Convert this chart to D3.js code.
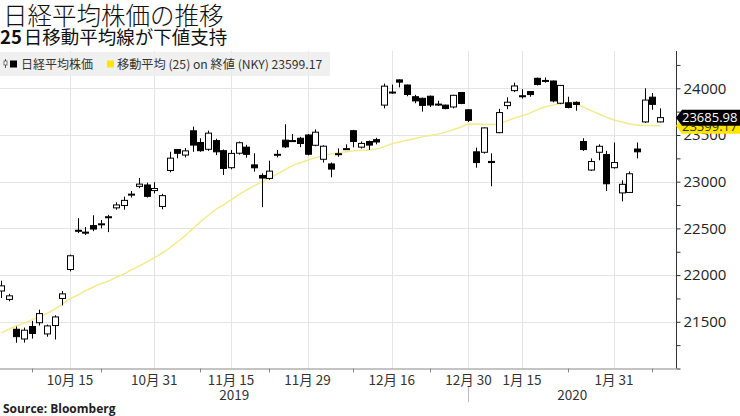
<!DOCTYPE html>
<html><head><meta charset="utf-8">
<script src="https://cdn.jsdelivr.net/npm/d3@7"></script>
<style>body{margin:0;background:#fff;} svg{display:block;}</style>
</head><body><svg id="c" width="740" height="416"></svg>
<script>
const dates = ["2019-10-01","2019-10-02","2019-10-03","2019-10-04","2019-10-07","2019-10-08","2019-10-09","2019-10-10","2019-10-11",
"2019-10-15","2019-10-16","2019-10-17","2019-10-18","2019-10-21","2019-10-23","2019-10-24","2019-10-25","2019-10-28","2019-10-29","2019-10-30","2019-10-31",
"2019-11-01","2019-11-05","2019-11-06","2019-11-07","2019-11-08","2019-11-11","2019-11-12","2019-11-13","2019-11-14","2019-11-15","2019-11-18","2019-11-19","2019-11-20","2019-11-21","2019-11-22","2019-11-25","2019-11-26","2019-11-27","2019-11-28","2019-11-29",
"2019-12-02","2019-12-03","2019-12-04","2019-12-05","2019-12-06","2019-12-09","2019-12-10","2019-12-11","2019-12-12","2019-12-13","2019-12-16","2019-12-17","2019-12-18","2019-12-19","2019-12-20","2019-12-23","2019-12-24","2019-12-25","2019-12-26","2019-12-27","2019-12-30",
"2020-01-06","2020-01-07","2020-01-08","2020-01-09","2020-01-10","2020-01-14","2020-01-15","2020-01-16","2020-01-17","2020-01-20","2020-01-21","2020-01-22","2020-01-23","2020-01-24","2020-01-27","2020-01-28","2020-01-29","2020-01-30","2020-01-31",
"2020-02-03","2020-02-04","2020-02-05","2020-02-06","2020-02-07","2020-02-10"];
const openV = [21830,21740,21420,21316,21450,21490,21370,21460,21750,
22060,22480,22460,22530,22545,22615,22720,22745,22860,22950,22965,22905,
22735,23120,23345,23285,23545,23420,23347,23440,23332,23150,23305,23370,23180,23067,23035,23290,23445,23440,23465,23500,
23390,23240,23190,23295,23350,23546,23370,23430,23450,23820,23960,24090,24035,23910,23893,23915,23828,23820,23800,23955,23770,
23320,23315,23217,23525,23815,23975,23920,23965,24107,24080,24078,23840,23845,23850,23430,23125,23315,23290,23150,
22880,22885,23350,23640,23905,23640];
const highV = [21940,21800,21450,21438,21510,21630,21470,21570,21830,
22220,22610,22515,22640,22590,22645,22780,22840,22900,23040,22990,22995,
22870,23320,23350,23360,23590,23465,23547,23460,23345,23340,23430,23395,23304,23090,23225,23340,23615,23510,23480,23510,
23560,23390,23205,23357,23400,23555,23430,23440,23470,24050,24040,24095,24040,23930,23900,23923,23866,23825,23930,23960,23775,
23365,23580,23304,23780,23904,24060,23990,23970,24115,24115,24083,24035,23910,23860,23465,23250,23400,23330,23420,
23015,23110,23420,24000,23950,23785];
const lowV = [21755,21720,21276,21277,21320,21460,21340,21310,21675,
22040,22450,22430,22470,22500,22460,22700,22700,22830,22930,22830,22875,
22705,23100,23250,23260,23320,23320,23330,23285,23072,23133,23290,23257,23107,22727,23020,23260,23360,23430,23370,23282,
23380,23205,23047,23268,23345,23368,23355,23340,23400,23785,23940,24010,23915,23840,23750,23800,23810,23775,23785,23830,23640,
23150,23300,22951,23520,23776,23960,23890,23910,24030,24060,23850,23830,23785,23760,23330,23115,23230,22900,23140,
22790,22880,23250,23630,23770,23635];
const closeV = [21885,21778,21341,21410,21375,21588,21456,21552,21799,
22207,22473,22452,22493,22549,22625,22751,22800,22867,22974,22843,22927,
22851,23252,23304,23330,23392,23332,23520,23320,23142,23303,23417,23293,23149,23039,23113,23293,23373,23438,23409,23294,
23530,23380,23135,23300,23354,23431,23410,23392,23425,24023,23952,24066,23934,23865,23817,23821,23831,23783,23925,23838,23657,
23205,23576,23205,23740,23851,24025,23917,23933,24041,24084,23865,24031,23795,23827,23344,23216,23379,22978,23205,
22972,23085,23320,23874,23828,23685.98];
const ma25 = [21380,21420,21455,21485,21520,21555,21590,21635,21690,
21745,21785,21830,21870,21905,21935,21975,22010,22055,22095,22140,22185,
22235,22290,22355,22420,22495,22570,22635,22700,22750,22805,22860,22910,22955,22995,23040,23080,23125,23170,23200,23230,
23255,23275,23295,23310,23320,23330,23335,23340,23350,23375,23405,23425,23445,23460,23480,23495,23510,23530,23555,23585,23615,
23618,23612,23612,23622,23650,23680,23705,23735,23770,23800,23820,23837,23842,23832,23800,23762,23725,23692,23660,
23640,23618,23607,23602,23600,23599.17];

const xTickDates = ["2019-10-15","2019-10-31","2019-11-15","2019-11-29","2019-12-16","2019-12-30","2020-01-15","2020-01-31"];
const xTickLabels = ["10月 15","10月 31","11月 15","11月 29","12月 16","12月 30","1月 15","1月 31"];
const xMinorDates = ["2019-10-07","2019-10-21","2019-11-11","2019-11-22","2019-12-09","2019-12-23","2020-01-23","2020-02-07"];
const yearLabels = ["2019","2020"];
const yMajorTicks = [21500,22000,22500,23000,23500,24000];
const yAllTicks = [21000,21250,21500,21750,22000,22250,22500,22750,23000,23250,23500,23750,24000,24250];

const titleText = "日経平均株価の推移";
const subNum = "25";
const subText = "日移動平均線が下値支持";
const legend1 = "日経平均株価";
const legend2 = "移動平均 (25) on 終値 (NKY) 23599.17";
const sourceText = "Source: Bloomberg";

const FONT = "'Noto Sans CJK JP','Noto Sans',sans-serif";
const NUMFONT = "'Open Sans','Noto Sans',sans-serif";
const svg = d3.select("#c");
const plotL = 0, plotR = 676, plotT = 51, plotB = 368.5;

const idx = d => dates.indexOf(d);
const x = d3.scaleLinear().domain([idx("2019-10-15"), idx("2020-01-31")]).range([70, 614]);
const y = d3.scaleLinear().domain([21000, 24000]).range([plotB, 88.3]);

svg.append("defs").append("clipPath").attr("id","clip")
  .append("rect").attr("x",plotL).attr("y",plotT).attr("width",plotR-plotL).attr("height",plotB-plotT);

// gridlines
const grid = svg.append("g");
grid.selectAll(".hg").data(yMajorTicks).join("line")
  .attr("x1",plotL).attr("x2",plotR).attr("y1",d=>Math.round(y(d))+0.5).attr("y2",d=>Math.round(y(d))+0.5)
  .attr("stroke","#e4e4e4").attr("stroke-width",1);
grid.selectAll(".vg").data(xTickDates).join("line")
  .attr("x1",d=>Math.round(x(idx(d)))+0.5).attr("x2",d=>Math.round(x(idx(d)))+0.5)
  .attr("y1",plotT).attr("y2",plotB)
  .attr("stroke","#e4e4e4").attr("stroke-width",1);

// legend band
svg.append("rect").attr("x",0).attr("y",52).attr("width",330).attr("height",24).attr("fill","#ececec").attr("opacity",0.8);
const lg = svg.append("g");
lg.append("line").attr("x1",5.5).attr("x2",5.5).attr("y1",59).attr("y2",68).attr("stroke","#555").attr("stroke-width",1);
lg.append("rect").attr("x",4).attr("y",61).attr("width",3).attr("height",4).attr("fill","#fff").attr("stroke","#555").attr("stroke-width",0.8);
lg.append("rect").attr("x",10).attr("y",60.5).attr("width",7).attr("height",7).attr("fill","#000");
lg.append("text").attr("x",21).attr("y",68.5).text(legend1).attr("font-family",FONT).attr("font-size",12).attr("fill","#333");
lg.append("rect").attr("x",107).attr("y",60.5).attr("width",7).attr("height",7).attr("fill","#ffe600");
lg.append("text").attr("x",117).attr("y",68.5).text(legend2).attr("font-family",FONT).attr("font-size",12.2).attr("fill","#333");

// plot
const plot = svg.append("g").attr("clip-path","url(#clip)");
const line = d3.line().x((d,i)=>x(i)).y(d=>y(d)).curve(d3.curveMonotoneX);
plot.append("path").datum(ma25).attr("d",line).attr("fill","none").attr("stroke","#f4ea86").attr("stroke-width",1.4);

const bw = 6;
const candles = plot.selectAll(".cd").data(dates.map((d,i)=>i)).join("g");
candles.append("line")
  .attr("x1",i=>Math.round(x(i))+0.5).attr("x2",i=>Math.round(x(i))+0.5)
  .attr("y1",i=>y(highV[i])).attr("y2",i=>y(lowV[i]))
  .attr("stroke","#000").attr("stroke-width",1);
candles.append("rect")
  .attr("x",i=>Math.round(x(i))+0.5-bw/2).attr("width",bw)
  .attr("y",i=>y(Math.max(openV[i],closeV[i])))
  .attr("height",i=>Math.max(1,Math.abs(y(openV[i])-y(closeV[i]))))
  .attr("fill",i=>closeV[i]>=openV[i]?"#fff":"#000")
  .attr("stroke","#000").attr("stroke-width",1);

// bottom axis
svg.append("line").attr("x1",plotL).attr("x2",plotR).attr("y1",plotB+0.5).attr("y2",plotB+0.5).attr("stroke","#888");
svg.selectAll(".mt").data(xMinorDates).join("line")
  .attr("x1",d=>Math.round(x(idx(d)))+0.5).attr("x2",d=>Math.round(x(idx(d)))+0.5)
  .attr("y1",plotB).attr("y2",plotB+4).attr("stroke","#888");
svg.selectAll(".xl").data(xTickDates).join("text")
  .attr("x",d=>x(idx(d))).attr("y",385).attr("text-anchor","middle")
  .text((d,i)=>xTickLabels[i]).attr("font-family",FONT).attr("font-size",13.5).attr("fill","#333");
const sep = Math.round(x(idx("2019-12-30")))+0.5;
svg.append("line").attr("x1",sep).attr("x2",sep).attr("y1",387).attr("y2",402).attr("stroke","#bbb");
const yearCenters = [(plotL+sep)/2, (sep+plotR)/2];
svg.selectAll(".yl").data(yearLabels).join("text")
  .attr("x",(d,i)=>yearCenters[i]).attr("y",400).attr("text-anchor","middle").text(d=>d)
  .attr("font-family",FONT).attr("font-size",13.5).attr("fill","#333");

// right axis
const ax = d3.axisRight(y).tickValues(yAllTicks).tickSize(4).tickPadding(3)
  .tickFormat(d => yMajorTicks.includes(d) ? String(d) : "");
const gAx = svg.append("g").attr("transform",`translate(${plotR+0.5},0)`).call(ax);
gAx.select(".domain").attr("d",`M0,${plotT}V${plotB}`).attr("stroke","#333");
gAx.selectAll(".tick line").attr("stroke","#333");
gAx.selectAll(".tick text").attr("font-family",NUMFONT).attr("font-size",15).attr("fill","#222");

// badges
function badge(v, fill, tcol){
  const yb = y(v);
  const g = svg.append("g");
  g.append("path").attr("d",`M${plotR},${yb} L${plotR+6},${yb-8} L740,${yb-8} L740,${yb+8} L${plotR+6},${yb+8} Z`).attr("fill",fill);
  g.append("text").attr("x",plotR+6).attr("y",yb+4.8).text(d3.format(".2f")(v))
    .attr("font-family",NUMFONT).attr("font-size",13).attr("fill",tcol);
}
badge(ma25[ma25.length-1], "#ffe600", "#333");
badge(closeV[closeV.length-1], "#000", "#fff");

// titles
svg.append("text").attr("x",3).attr("y",25).text(titleText).attr("font-family",FONT).attr("font-size",24.5).attr("font-weight",300).attr("fill","#111");
const st = svg.append("text").attr("x",0).attr("y",44).attr("font-family",FONT).attr("font-size",18.5).attr("fill","#111");
st.append("tspan").attr("font-weight",700).text(subNum);
st.append("tspan").attr("dx",2).text(subText);
svg.append("text").attr("x",3).attr("y",413).text(sourceText).attr("font-family",NUMFONT).attr("font-size",12).attr("font-weight",700).attr("fill","#222");
</script></body></html>
